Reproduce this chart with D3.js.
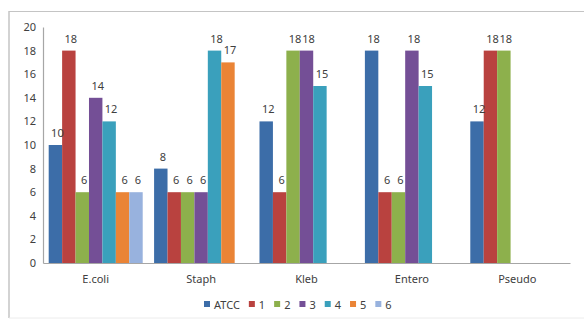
<!DOCTYPE html>
<html>
<head>
<meta charset="utf-8">
<script src="https://cdn.jsdelivr.net/npm/d3@7"></script>
<style>
  html, body { margin: 0; padding: 0; background: #fff; }
  svg text { font-family: "Noto Sans", "Open Sans", sans-serif; }
</style>
</head>
<body>
<svg id="chart" width="584" height="320"></svg>
<script>
// Organisms on the category axis
const categories = ["E.coli", "Staph", "Kleb", "Entero", "Pseudo"];
// Series names (legend order)
const seriesNames = ["ATCC", "1", "2", "3", "4", "5", "6"];
// Values per series, one entry per organism (null = no bar)
const atcc = [10, 8, 12, 18, 12];
const s1   = [18, 6, 6, 6, 18];
const s2   = [6, 6, 18, 6, 18];
const s3   = [14, 6, 18, 18, null];
const s4   = [12, 18, 15, 15, null];
const s5   = [6, 17, null, null, null];
const s6   = [6, null, null, null, null];
// Value-axis tick labels
const yTicks = [0, 2, 4, 6, 8, 10, 12, 14, 16, 18, 20];

const seriesValues = [atcc, s1, s2, s3, s4, s5, s6];
const colors = ["#3C6DA8", "#B9423F", "#8DB04C", "#744F96", "#3AA0BC", "#EA8436", "#98B2DE"];

const svg = d3.select("#chart");

// outer chart frame
svg.append("line").attr("x1", 9).attr("y1", 11.5).attr("x2", 584).attr("y2", 11.5)
  .attr("stroke", "#c4c4c4").attr("stroke-width", 1.2);
svg.append("line").attr("x1", 9).attr("y1", 11).attr("x2", 9).attr("y2", 318)
  .attr("stroke", "#c4c4c4").attr("stroke-width", 1.5);
svg.append("line").attr("x1", 9).attr("y1", 318).attr("x2", 584).attr("y2", 318)
  .attr("stroke", "#ececec").attr("stroke-width", 1);

const y = d3.scaleLinear().domain([0, 20]).range([263, 27]);
const x0 = d3.scaleBand().domain(categories).range([43, 570])
  .paddingInner(0.108).paddingOuter(0.054);
const x1 = d3.scaleBand().domain(seriesNames).range([0, x0.bandwidth()]);

// bars
const groups = svg.append("g").selectAll("g")
  .data(categories)
  .join("g")
  .attr("transform", d => `translate(${x0(d)},0)`);

groups.each(function(cat, ci) {
  const g = d3.select(this);
  const rows = seriesNames
    .map((name, si) => ({ name, si, v: seriesValues[si][ci] }))
    .filter(d => d.v != null);
  g.selectAll("rect")
    .data(rows)
    .join("rect")
    .attr("x", d => x1(d.name))
    .attr("y", d => y(d.v))
    .attr("width", x1.bandwidth())
    .attr("height", d => y(0) - y(d.v))
    .attr("fill", d => colors[d.si]);
  g.selectAll("text.val")
    .data(rows)
    .join("text")
    .attr("class", "val")
    .attr("x", d => x1(d.name) + x1.bandwidth() / 2 + 2)
    .attr("y", d => y(d.v) - 8)
    .attr("text-anchor", "middle")
    .attr("font-size", 11)
    .attr("fill", "#404040")
    .text(d => d.v);
});

// value axis
const yAxis = svg.append("g")
  .attr("transform", "translate(43,0)")
  .call(d3.axisLeft(y).tickValues(yTicks).tickSize(0).tickPadding(7));
yAxis.select(".domain").attr("stroke", "#a6a6a6").attr("stroke-width", 1.2);
yAxis.selectAll("text").attr("font-size", 11).attr("fill", "#404040")
  .attr("font-family", "'Noto Sans', sans-serif");

// category axis
const xAxis = svg.append("g")
  .attr("transform", "translate(0,263)")
  .call(d3.axisBottom(x0).tickSize(0).tickPadding(12).tickSizeOuter(0));
xAxis.select(".domain").attr("stroke", "#a6a6a6").attr("stroke-width", 1.2);
xAxis.selectAll("text").attr("font-size", 11).attr("fill", "#404040")
  .attr("font-family", "'Noto Sans', sans-serif");

// legend
const legend = svg.append("g").attr("transform", "translate(204,305)");
let lx = 0;
seriesNames.forEach((name, i) => {
  const item = legend.append("g").attr("transform", `translate(${lx},0)`);
  item.append("rect").attr("x", 0).attr("y", -4).attr("width", 6).attr("height", 6)
    .attr("fill", colors[i]);
  const t = item.append("text").attr("x", 10).attr("y", 0).attr("dy", "0.35em")
    .attr("font-size", 11).attr("fill", "#404040").text(name);
  lx += 10 + t.node().getComputedTextLength() + 9;
});
</script>
</body>
</html>
